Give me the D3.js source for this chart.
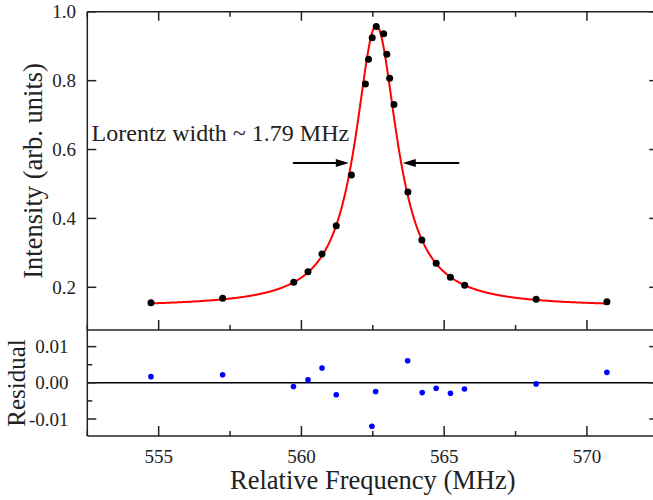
<!DOCTYPE html>
<html>
<head>
<meta charset="utf-8">
<script src="https://cdn.jsdelivr.net/npm/d3@7"></script>
<style>
  body { margin: 0; background: #fff; }
  text { font-family: "Liberation Serif", "Times New Roman", serif; fill: #222; }
</style>
</head>
<body>
<script>
var width = 653;
var height = 500;

// measured points (MHz, intensity)
var freq = [554.73, 557.24, 559.73, 560.23, 560.72, 561.22, 561.75, 562.24, 562.35, 562.48, 562.62,
  562.88, 562.99, 563.09, 563.24, 563.73, 564.22, 564.72, 565.22, 565.72, 568.22, 570.7];
var intensity = [0.155, 0.168, 0.2145, 0.245, 0.297, 0.379, 0.526, 0.790, 0.862, 0.925, 0.957,
  0.936, 0.877, 0.807, 0.731, 0.477, 0.337, 0.270, 0.229, 0.206, 0.165, 0.158];

// residuals that fall inside the lower panel
var resFreq = [554.73, 557.24, 559.72, 560.23, 560.72, 561.22, 562.47, 562.6, 563.72, 564.23,
  564.72, 565.22, 565.71, 568.22, 570.7];
var residual = [0.0017, 0.0022, -0.001, 0.0008, 0.0041, -0.0033, -0.012, -0.0024, 0.0061, -0.0027,
  -0.0015, -0.0029, -0.0017, -0.0003, 0.0029];

// Lorentz fit parameters
var x0 = 562.62;
var fwhm = 1.79;
var amp = 0.817;
var base = 0.143;

var xTicks = [555, 560, 565, 570];
var xMinor = [552.5, 557.5, 562.5, 567.5, 572.5];
var yTicks = [0.2, 0.4, 0.6, 0.8, 1.0];
var rTicks = [-0.01, 0, 0.01];
var rMinor = [-0.005, 0.005];

var left = 87.3, right = 658.3;
var topY = 11.8, midY = 330, botY = 436;

var x = d3.scaleLinear().domain([552.5, 572.5]).range([left, right]);
var y = d3.scaleLinear().domain([0.076, 1.0]).range([midY, topY]);
var yr = d3.scaleLinear().domain([-0.0147, 0.0146]).range([botY, midY]);

var svg = d3.select("body").append("svg")
  .attr("width", width)
  .attr("height", height);

var axisColor = "#222";

function lorentz(f) {
  var u = 2 * (f - x0) / fwhm;
  return base + amp / (1 + u * u);
}

// fit curve
var curve = d3.range(freq[0], freq[freq.length - 1] + 0.001, 0.02).map(function (f) {
  return [f, lorentz(f)];
});

svg.append("path")
  .attr("d", d3.line().x(function (d) { return x(d[0]); }).y(function (d) { return y(d[1]); })(curve))
  .attr("fill", "none")
  .attr("stroke", "#ff0000")
  .attr("stroke-width", 2);

svg.selectAll(".pt")
  .data(freq)
  .enter()
  .append("circle")
  .attr("class", "pt")
  .attr("cx", function (d) { return x(d); })
  .attr("cy", function (d, i) { return y(intensity[i]); })
  .attr("r", 3.5)
  .attr("fill", "#000");

// zero line in residual panel
svg.append("line")
  .attr("x1", left).attr("x2", right)
  .attr("y1", yr(0)).attr("y2", yr(0))
  .attr("stroke", "#000")
  .attr("stroke-width", 1.5);

svg.selectAll(".res")
  .data(resFreq)
  .enter()
  .append("circle")
  .attr("class", "res")
  .attr("cx", function (d) { return x(d); })
  .attr("cy", function (d, i) { return yr(residual[i]); })
  .attr("r", 2.8)
  .attr("fill", "#0000ff");

// axes, ticks inward
function tickLine(g, pos, len, vertical) {
  g.append("line")
    .attr("x1", vertical ? pos[0] : pos[0])
    .attr("y1", pos[1])
    .attr("x2", vertical ? pos[0] : pos[0] + len)
    .attr("y2", vertical ? pos[1] + len : pos[1])
    .attr("stroke", axisColor)
    .attr("stroke-width", 1.5);
}

var axes = svg.append("g");

// frame lines
[[left, topY, left, botY], [left, topY, right, topY], [left, midY, right, midY],
 [left, botY, right, botY], [right, topY, right, botY]].forEach(function (l) {
  axes.append("line")
    .attr("x1", l[0]).attr("y1", l[1]).attr("x2", l[2]).attr("y2", l[3])
    .attr("stroke", axisColor)
    .attr("stroke-width", 1.5);
});

xTicks.forEach(function (t) {
  tickLine(axes, [x(t), topY], 9, true);
  tickLine(axes, [x(t), midY], -10, true);
  tickLine(axes, [x(t), botY], -10, true);
});
xMinor.forEach(function (t) {
  tickLine(axes, [x(t), topY], 5, true);
  tickLine(axes, [x(t), midY], -5, true);
  tickLine(axes, [x(t), botY], -5, true);
});
yTicks.forEach(function (t) {
  tickLine(axes, [left, y(t)], 9, false);
  tickLine(axes, [right, y(t)], -9, false);
});
rTicks.forEach(function (t) {
  tickLine(axes, [left, yr(t)], 9, false);
  tickLine(axes, [right, yr(t)], -9, false);
});
rMinor.forEach(function (t) {
  tickLine(axes, [left, yr(t)], 5, false);
  tickLine(axes, [right, yr(t)], -5, false);
});

// tick labels
svg.selectAll(".xl")
  .data(xTicks)
  .enter()
  .append("text")
  .attr("x", function (d) { return x(d); })
  .attr("y", 462.7)
  .attr("text-anchor", "middle")
  .style("font-size", "19px")
  .text(function (d) { return d; });

svg.selectAll(".yl")
  .data(yTicks)
  .enter()
  .append("text")
  .attr("x", 76)
  .attr("y", function (d) { return y(d); })
  .attr("dy", "0.35em")
  .attr("text-anchor", "end")
  .style("font-size", "19px")
  .text(function (d) { return d3.format(".1f")(d); });

svg.selectAll(".rl")
  .data(rTicks)
  .enter()
  .append("text")
  .attr("x", 68.5)
  .attr("y", function (d) { return yr(d); })
  .attr("dy", "0.35em")
  .attr("text-anchor", "end")
  .style("font-size", "19px")
  .text(function (d) { return d3.format(".2f")(d).replace("−", "-"); });

// axis titles
svg.append("text")
  .attr("x", x(562.5))
  .attr("y", 489)
  .attr("text-anchor", "middle")
  .style("font-size", "26.5px")
  .text("Relative Frequency (MHz)");

svg.append("text")
  .attr("transform", "translate(42," + (topY + midY) / 2 + ") rotate(-90)")
  .attr("text-anchor", "middle")
  .style("font-size", "26.5px")
  .text("Intensity (arb. units)");

svg.append("text")
  .attr("transform", "translate(25," + (midY + botY) / 2 + ") rotate(-90)")
  .attr("text-anchor", "middle")
  .style("font-size", "25px")
  .text("Residual");

// width annotation
svg.append("text")
  .attr("x", x(552.65))
  .attr("y", y(0.625))
  .style("font-size", "24px")
  .text("Lorentz width ~ 1.79 MHz");

function arrow(from, to, yv) {
  var x1 = x(from), x2 = x(to), yy = y(yv);
  var dir = x2 > x1 ? 1 : -1;
  svg.append("line")
    .attr("x1", x1).attr("x2", x2 - dir * 10)
    .attr("y1", yy).attr("y2", yy)
    .attr("stroke", "#000")
    .attr("stroke-width", 2);
  svg.append("path")
    .attr("d", d3.line()([[x2, yy], [x2 - dir * 13, yy - 4], [x2 - dir * 13, yy + 4]]) + "Z")
    .attr("fill", "#000");
}
arrow(559.70, 561.66, 0.561);
arrow(565.53, 563.55, 0.561);
</script>
</body>
</html>
